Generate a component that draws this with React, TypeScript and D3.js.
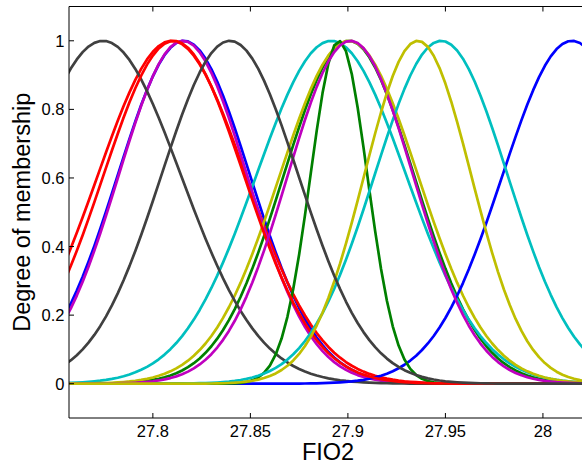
import React from "react";
import * as d3 from "d3";

// Gaussian membership functions: centre and spread,
// drawn in MATLAB's default colour order (b, g, r, c, m, y, k, repeated).
const centers = [27.8159, 27.9005, 27.8097, 27.8915, 27.8154, 27.9005, 27.7744,
  28.0149, 27.8954, 27.8107, 27.9478, 27.9013, 27.9358, 27.8395];
const sigmas = [0.0340, 0.0335, 0.0380, 0.0385, 0.0330, 0.0355, 0.0401,
  0.0357, 0.0146, 0.0361, 0.0342, 0.0322, 0.0275, 0.0352];
const colorOrder = ["#0000ff", "#008000", "#ff0000", "#00bfbf", "#bf00bf", "#bfbf00", "#404040"];
const xTicks = [27.8, 27.85, 27.9, 27.95, 28];
const yTicks = [0, 0.2, 0.4, 0.6, 0.8, 1];
const xLabel = "FIO2";
const yLabel = "Degree of membership";

const W = 582, H = 465;
const L = 69, R = 587, T = 6.5, B = 418;

export default function App() {
  const x = d3.scaleLinear().domain([27.757, 28.0226]).range([L, R]);
  const y = d3.scaleLinear().domain([-0.1, 1.1]).range([B, T]);
  const xs = d3.range(27.74, 28.05, 0.003);
  const line = d3.line<[number, number]>().x(d => x(d[0])).y(d => y(d[1]));
  const font = "'Liberation Sans', Arial, Helvetica, sans-serif";
  return (
    <svg width={W} height={H} style={{ position: "absolute", left: 0, top: 0, background: "#fff" }}>
      <defs>
        <clipPath id="plot"><rect x={L} y={T} width={R - L} height={B - T} /></clipPath>
      </defs>
      <rect x={0} y={0} width={W} height={H} fill="#fff" />
      <g clipPath="url(#plot)">
        {centers.map((c, i) => {
          const s = sigmas[i];
          const pts: [number, number][] = xs.map(v => [v, Math.exp(-((v - c) ** 2) / (2 * s * s))]);
          return <path key={i} d={line(pts) || ""} fill="none" stroke={colorOrder[i % colorOrder.length]}
            strokeWidth={2.7} strokeLinejoin="round" />;
        })}
      </g>
      {/* axes box */}
      <line x1={L} x2={R} y1={T} y2={T} stroke="#000" strokeWidth={1} />
      <line x1={L} x2={R} y1={B} y2={B} stroke="#000" strokeWidth={1} />
      <line x1={L} x2={L} y1={T} y2={B} stroke="#000" strokeWidth={1} />
      {xTicks.map(t => (
        <g key={t}>
          <line x1={x(t)} x2={x(t)} y1={B} y2={B - 5} stroke="#000" />
          <line x1={x(t)} x2={x(t)} y1={T} y2={T + 5} stroke="#000" />
          <text x={x(t)} y={437} textAnchor="middle" fontFamily={font} fontSize={16.5} fill="#000">{String(t)}</text>
        </g>
      ))}
      {yTicks.map(t => (
        <g key={t}>
          <line x1={L} x2={L + 5} y1={y(t)} y2={y(t)} stroke="#000" />
          <text x={64.5} y={y(t) + 6} textAnchor="end" fontFamily={font} fontSize={16.5} fill="#000">{String(t)}</text>
        </g>
      ))}
      <text x={(L + R) / 2} y={460} textAnchor="middle" fontFamily={font} fontSize={23.5} fill="#000">{xLabel}</text>
      <text transform={`translate(30,${(T + B) / 2}) rotate(-90)`} textAnchor="middle" fontFamily={font} fontSize={23.5} fill="#000">{yLabel}</text>
    </svg>
  );
}
